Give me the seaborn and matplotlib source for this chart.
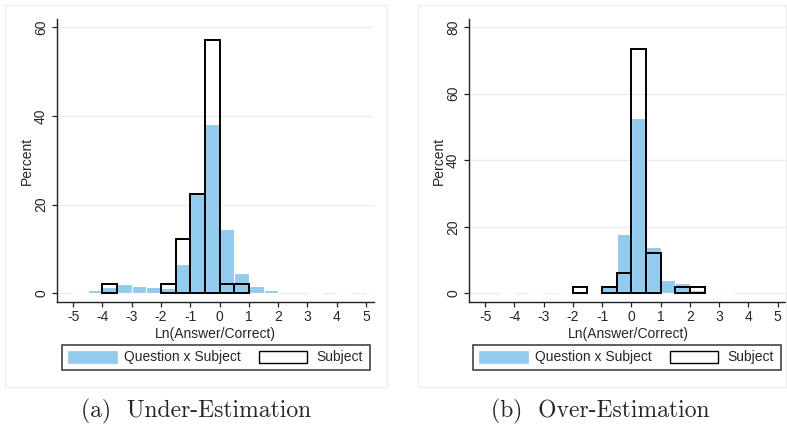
import numpy as np
import pandas as pd
import matplotlib
matplotlib.use("Agg")
import matplotlib.pyplot as plt
import seaborn as sns
from matplotlib.patches import Rectangle

# ---- data (percent per bin of width 0.5, left edges -5 .. 5) ----
bin_left = [-5.0, -4.5, -4.0, -3.5, -3.0, -2.5, -2.0, -1.5, -1.0, -0.5,
            0.0, 0.5, 1.0, 1.5, 2.0, 2.5, 3.0, 3.5, 4.0, 4.5, 5.0]
under_qxs = [0.35, 0.6, 1.3, 2.1, 1.7, 1.4, 1.2, 6.6, 22.3, 38.3,
             14.5, 4.6, 1.5, 0.8, 0.0, 0.0, 0.15, 0.0, 0.15, 0.0, 0.15]
under_subj = [0, 0, 2.04, 0, 0, 0, 2.04, 12.24, 22.45, 57.14,
              2.04, 2.04, 0, 0, 0, 0, 0, 0, 0, 0, 0]
over_qxs = [0.0, 0.15, 0.0, 0.5, 0.0, 0.12, 0.3, 0.5, 2.5, 17.8,
            52.7, 14.0, 4.1, 3.2, 0.9, 0.5, 0.1, 0.0, 0.0, 0.0, 0.0]
over_subj = [0, 0, 0, 0, 0, 0, 2.04, 0, 2.04, 6.12,
             73.47, 12.24, 0, 2.04, 2.04, 0, 0, 0, 0, 0, 0]

x_ticks = [-5, -4, -3, -2, -1, 0, 1, 2, 3, 4, 5]
x_tick_labels = ["-5", "-4", "-3", "-2", "-1", "0", "1", "2", "3", "4", "5"]
under_yticks = [0, 20, 40, 60]
over_yticks = [0, 20, 40, 60, 80]
x_label = "Ln(Answer/Correct)"
y_label = "Percent"
legend_labels = ["Question x Subject", "Subject"]
captions = ["(a)  Under-Estimation", "(b)  Over-Estimation"]

BLUE = "#93CBEE"
W, H = 787, 432
FS = 10

sns.set_theme(style="white")
plt.rcParams["font.family"] = ["Liberation Sans", "DejaVu Sans"]

fig = plt.figure(figsize=(W / 100, H / 100), dpi=100)


def fx(px):
    return px / W


def fy(py):
    return 1 - py / H


edges = list(bin_left) + [bin_left[-1] + 0.5]
centers = [b + 0.25 for b in bin_left]


def panel(ax_box, qxs, subj, yticks, xlim, ylim):
    x0, y0, x1, y1 = ax_box
    ax = fig.add_axes([fx(x0), fy(y1), fx(x1) - fx(x0), fy(y0) - fy(y1)])
    df = pd.DataFrame({"x": centers, "q": qxs, "s": subj})
    sns.histplot(data=df, x="x", weights="q", bins=edges, stat="count",
                 color=BLUE, alpha=1, edgecolor="white", linewidth=0.8, ax=ax)
    sns.histplot(data=df, x="x", weights="s", bins=edges, stat="count",
                 fill=False, color="black", linewidth=1.4, ax=ax)
    for p in list(ax.patches):
        if p.get_height() <= 0:
            p.remove()
    for p in ax.patches:
        if p.get_facecolor()[3] == 0:
            p.set_zorder(3)
    ax.set_xlim(*xlim)
    ax.set_ylim(*ylim)
    ax.set_xticks(x_ticks)
    ax.set_xticklabels(x_tick_labels)
    ax.set_yticks(yticks)
    ax.set_yticklabels([str(t) for t in yticks], rotation=90, va="center")
    for t in yticks:
        ax.axhline(t, color="#ECECEC", lw=1.0, zorder=0)
    ax.set_xlabel(x_label, fontsize=FS, labelpad=2)
    ax.set_ylabel(y_label, fontsize=FS, labelpad=0.5)
    ax.tick_params(axis="both", which="both", direction="out", length=3.8,
                   width=0.9, color="#222222", labelsize=FS,
                   bottom=True, left=True)
    ax.tick_params(axis="x", pad=2.2)
    ax.tick_params(axis="y", pad=2.6)
    sns.despine(ax=ax)
    for s in ["left", "bottom"]:
        ax.spines[s].set_color("#222222")
        ax.spines[s].set_linewidth(1.0)
    ax.set_facecolor("white")
    return ax


ax1 = panel((57, 19, 374, 302), under_qxs, under_subj, under_yticks,
            (-5.55, 5.27), (-2.0, 61.9))
ax2 = panel((469, 19, 787, 302), over_qxs, over_subj, over_yticks,
            (-5.55, 5.32), (-2.6, 82.4))


def rect(a, b, c, d, **kw):
    fig.patches.append(Rectangle((fx(a), fy(d)), fx(c) - fx(a), fy(b) - fy(d),
                                 transform=fig.transFigure, **kw))


# panel borders
for (a, b, c, d) in [(5, 5, 387, 387), (418, 5, 786, 387)]:
    rect(a, b, c, d, fill=False, edgecolor="#EEEEEE", lw=1.0, zorder=0)

# legends (drawn as figure-level patches and text)
for off in [0, 411]:
    rect(62 + off, 345, 370 + off, 370, facecolor="white",
         edgecolor="#444444", lw=1.2, zorder=1)
    rect(68 + off, 351, 117 + off, 363, facecolor=BLUE, edgecolor=BLUE,
         lw=0.5, zorder=2)
    fig.text(fx(124 + off), fy(357.5), legend_labels[0], ha="left",
             va="center", fontsize=FS, zorder=3)
    rect(259 + off, 351, 307 + off, 363, facecolor="white",
         edgecolor="black", lw=1.0, zorder=2)
    fig.text(fx(316 + off), fy(357.5), legend_labels[1], ha="left",
             va="center", fontsize=FS, zorder=3)

# captions
for cx, txt in [(196, captions[0]), (600, captions[1])]:
    fig.text(fx(cx), fy(411), txt, ha="center", va="center",
             fontsize=17, family="cmr10")

fig.savefig("out.png", dpi=100, facecolor="white")
